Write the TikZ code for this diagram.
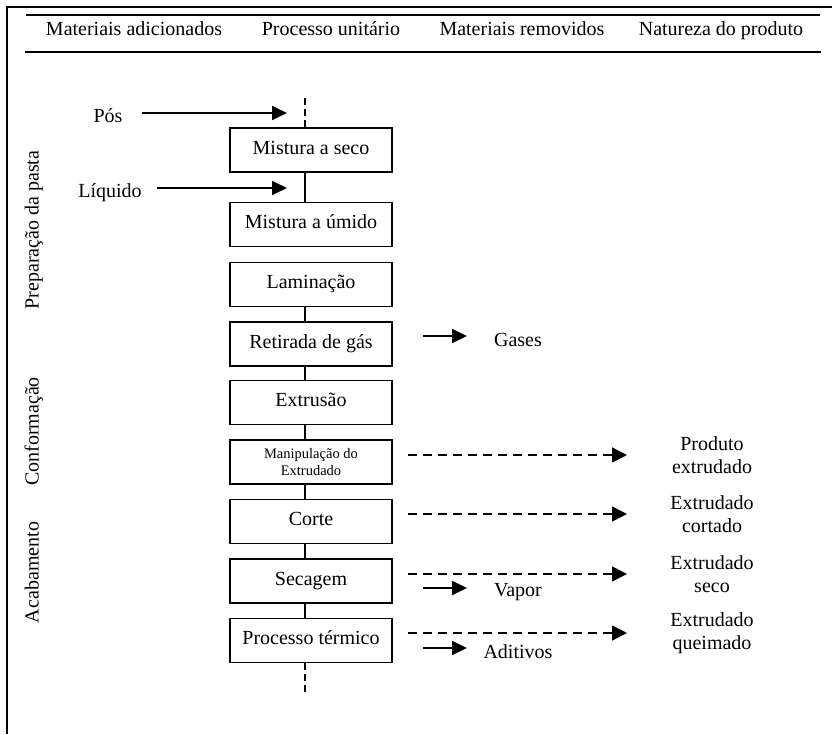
\documentclass[tikz,border=0pt]{standalone}
\usepackage{fontspec}
\setmainfont{Liberation Serif}
\usetikzlibrary{arrows.meta}
\begin{document}
\begin{tikzpicture}[x=1pt,y=-1pt,
  txt/.style={font=\fontsize{20}{23}\selectfont, inner sep=0pt, align=center, anchor=base},
  prodtxt/.style={font=\fontsize{20}{23.5}\selectfont, inner sep=0pt, align=center},
  procbox/.style={draw, line width=1.6pt, minimum width=162pt, minimum height=44pt, inner sep=0pt, font=\fontsize{20}{24}\selectfont, align=center, text height=14pt, text depth=6pt},
  smallbox/.style={draw, line width=1.6pt, minimum width=162pt, minimum height=44pt, inner sep=0pt, font=\fontsize{14.5}{17}\selectfont, align=center},
  solidarrow/.style={line width=1.8pt, -{Triangle[length=15pt,width=14pt]}},
  dasharrow/.style={line width=1.6pt, dash pattern=on 9pt off 6pt, -{Triangle[length=15pt,width=15pt]}},
  conn/.style={line width=1.6pt},
  dashconn/.style={line width=1.6pt, dash pattern=on 7pt off 4pt},
  rule/.style={line width=2.6pt},
  frameline/.style={line width=2pt},
  sidelabel/.style={txt, rotate=90}
]
\useasboundingbox (0,0) rectangle (832,734);
% outer frame (clipped)
\coordinate (fTL) at (7,7);
\coordinate (fTR) at (832,7);
\coordinate (fBL) at (7,734);
\draw[frameline] (fBL) -- (fTL) -- (fTR);
% header rules
\coordinate (r1a) at (26,15); \coordinate (r1b) at (820,15);
\coordinate (r2a) at (25,52); \coordinate (r2b) at (821,52);
\draw[rule] (r1a) -- (r1b);
\draw[rule] (r2a) -- (r2b);
% header texts
\node[txt] (h1) at (134,35) {Materiais adicionados};
\node[txt] (h2) at (331,35) {Processo unitário};
\node[txt] (h3) at (522,35) {Materiais removidos};
\node[txt] (h4) at (721,35) {Natureza do produto};
% side labels
\node[sidelabel] (s1) at (38.5,230) {Preparação da pasta};
\node[sidelabel] (s2) at (38.5,431.5) {Conformação};
\node[sidelabel] (s3) at (38.5,572.5) {Acabamento};
% process boxes
\node[procbox] (b1) at (311,150) {Mistura a seco};
\node[procbox] (b2) at (311,224.5) {Mistura a úmido};
\node[procbox] (b3) at (311,284.5) {Laminação};
\node[procbox] (b4) at (311,344) {Retirada de gás};
\node[procbox] (b5) at (311,402.5) {Extrusão};
\node[smallbox] (b6) at (311,462) {Manipulação do\\Extrudado};
\node[procbox] (b7) at (311,521.5) {Corte};
\node[procbox] (b8) at (311,581) {Secagem};
\node[procbox] (b9) at (311,640.5) {Processo térmico};
% connector line x
\coordinate (cx) at (305,0);
\coordinate (topend) at (305,98);
\coordinate (botend) at (305,693);
\draw[dashconn] (topend) -- (b1.north -| cx);
\draw[conn] (b1.south -| cx) -- (b2.north -| cx);
\draw[conn] (b3.south -| cx) -- (b4.north -| cx);
\draw[conn] (b4.south -| cx) -- (b5.north -| cx);
\draw[conn] (b5.south -| cx) -- (b6.north -| cx);
\draw[conn] (b6.south -| cx) -- (b7.north -| cx);
\draw[conn] (b7.south -| cx) -- (b8.north -| cx);
\draw[conn] (b8.south -| cx) -- (b9.north -| cx);
\draw[dashconn] (b9.south -| cx) -- (botend);
% added materials
\node[txt] (pos) at (108,122.5) {Pós};
\node[txt] (liq) at (110,197.5) {Líquido};
\coordinate (posA) at (142,113); \coordinate (posB) at (287,113);
\coordinate (liqA) at (157,188); \coordinate (liqB) at (287,188);
\draw[solidarrow] (posA) -- (posB);
\draw[solidarrow] (liqA) -- (liqB);
% removed materials
\node[txt] (gases) at (518,346) {Gases};
\node[txt] (vapor) at (518,596.5) {Vapor};
\node[txt] (adit) at (518,658) {Aditivos};
\coordinate (gA) at (423,336); \coordinate (gB) at (467,336);
\coordinate (vA) at (423,588); \coordinate (vB) at (467,588);
\coordinate (aA) at (423,648); \coordinate (aB) at (467,648);
\draw[solidarrow] (gA) -- (gB);
\draw[solidarrow] (vA) -- (vB);
\draw[solidarrow] (aA) -- (aB);
% products
\node[prodtxt] (p1) at (712,455) {Produto\\extrudado};
\node[prodtxt] (p2) at (712,514) {Extrudado\\cortado};
\node[prodtxt] (p3) at (712,574) {Extrudado\\seco};
\node[prodtxt] (p4) at (712,633) {Extrudado\\queimado};
\coordinate (d1A) at (408,455); \coordinate (d1B) at (627,455);
\coordinate (d2A) at (408,514); \coordinate (d2B) at (627,514);
\coordinate (d3A) at (408,574); \coordinate (d3B) at (627,574);
\coordinate (d4A) at (408,633); \coordinate (d4B) at (627,633);
\draw[dasharrow] (d1A) -- (d1B);
\draw[dasharrow] (d2A) -- (d2B);
\draw[dasharrow] (d3A) -- (d3B);
\draw[dasharrow] (d4A) -- (d4B);
\end{tikzpicture}
\end{document}
